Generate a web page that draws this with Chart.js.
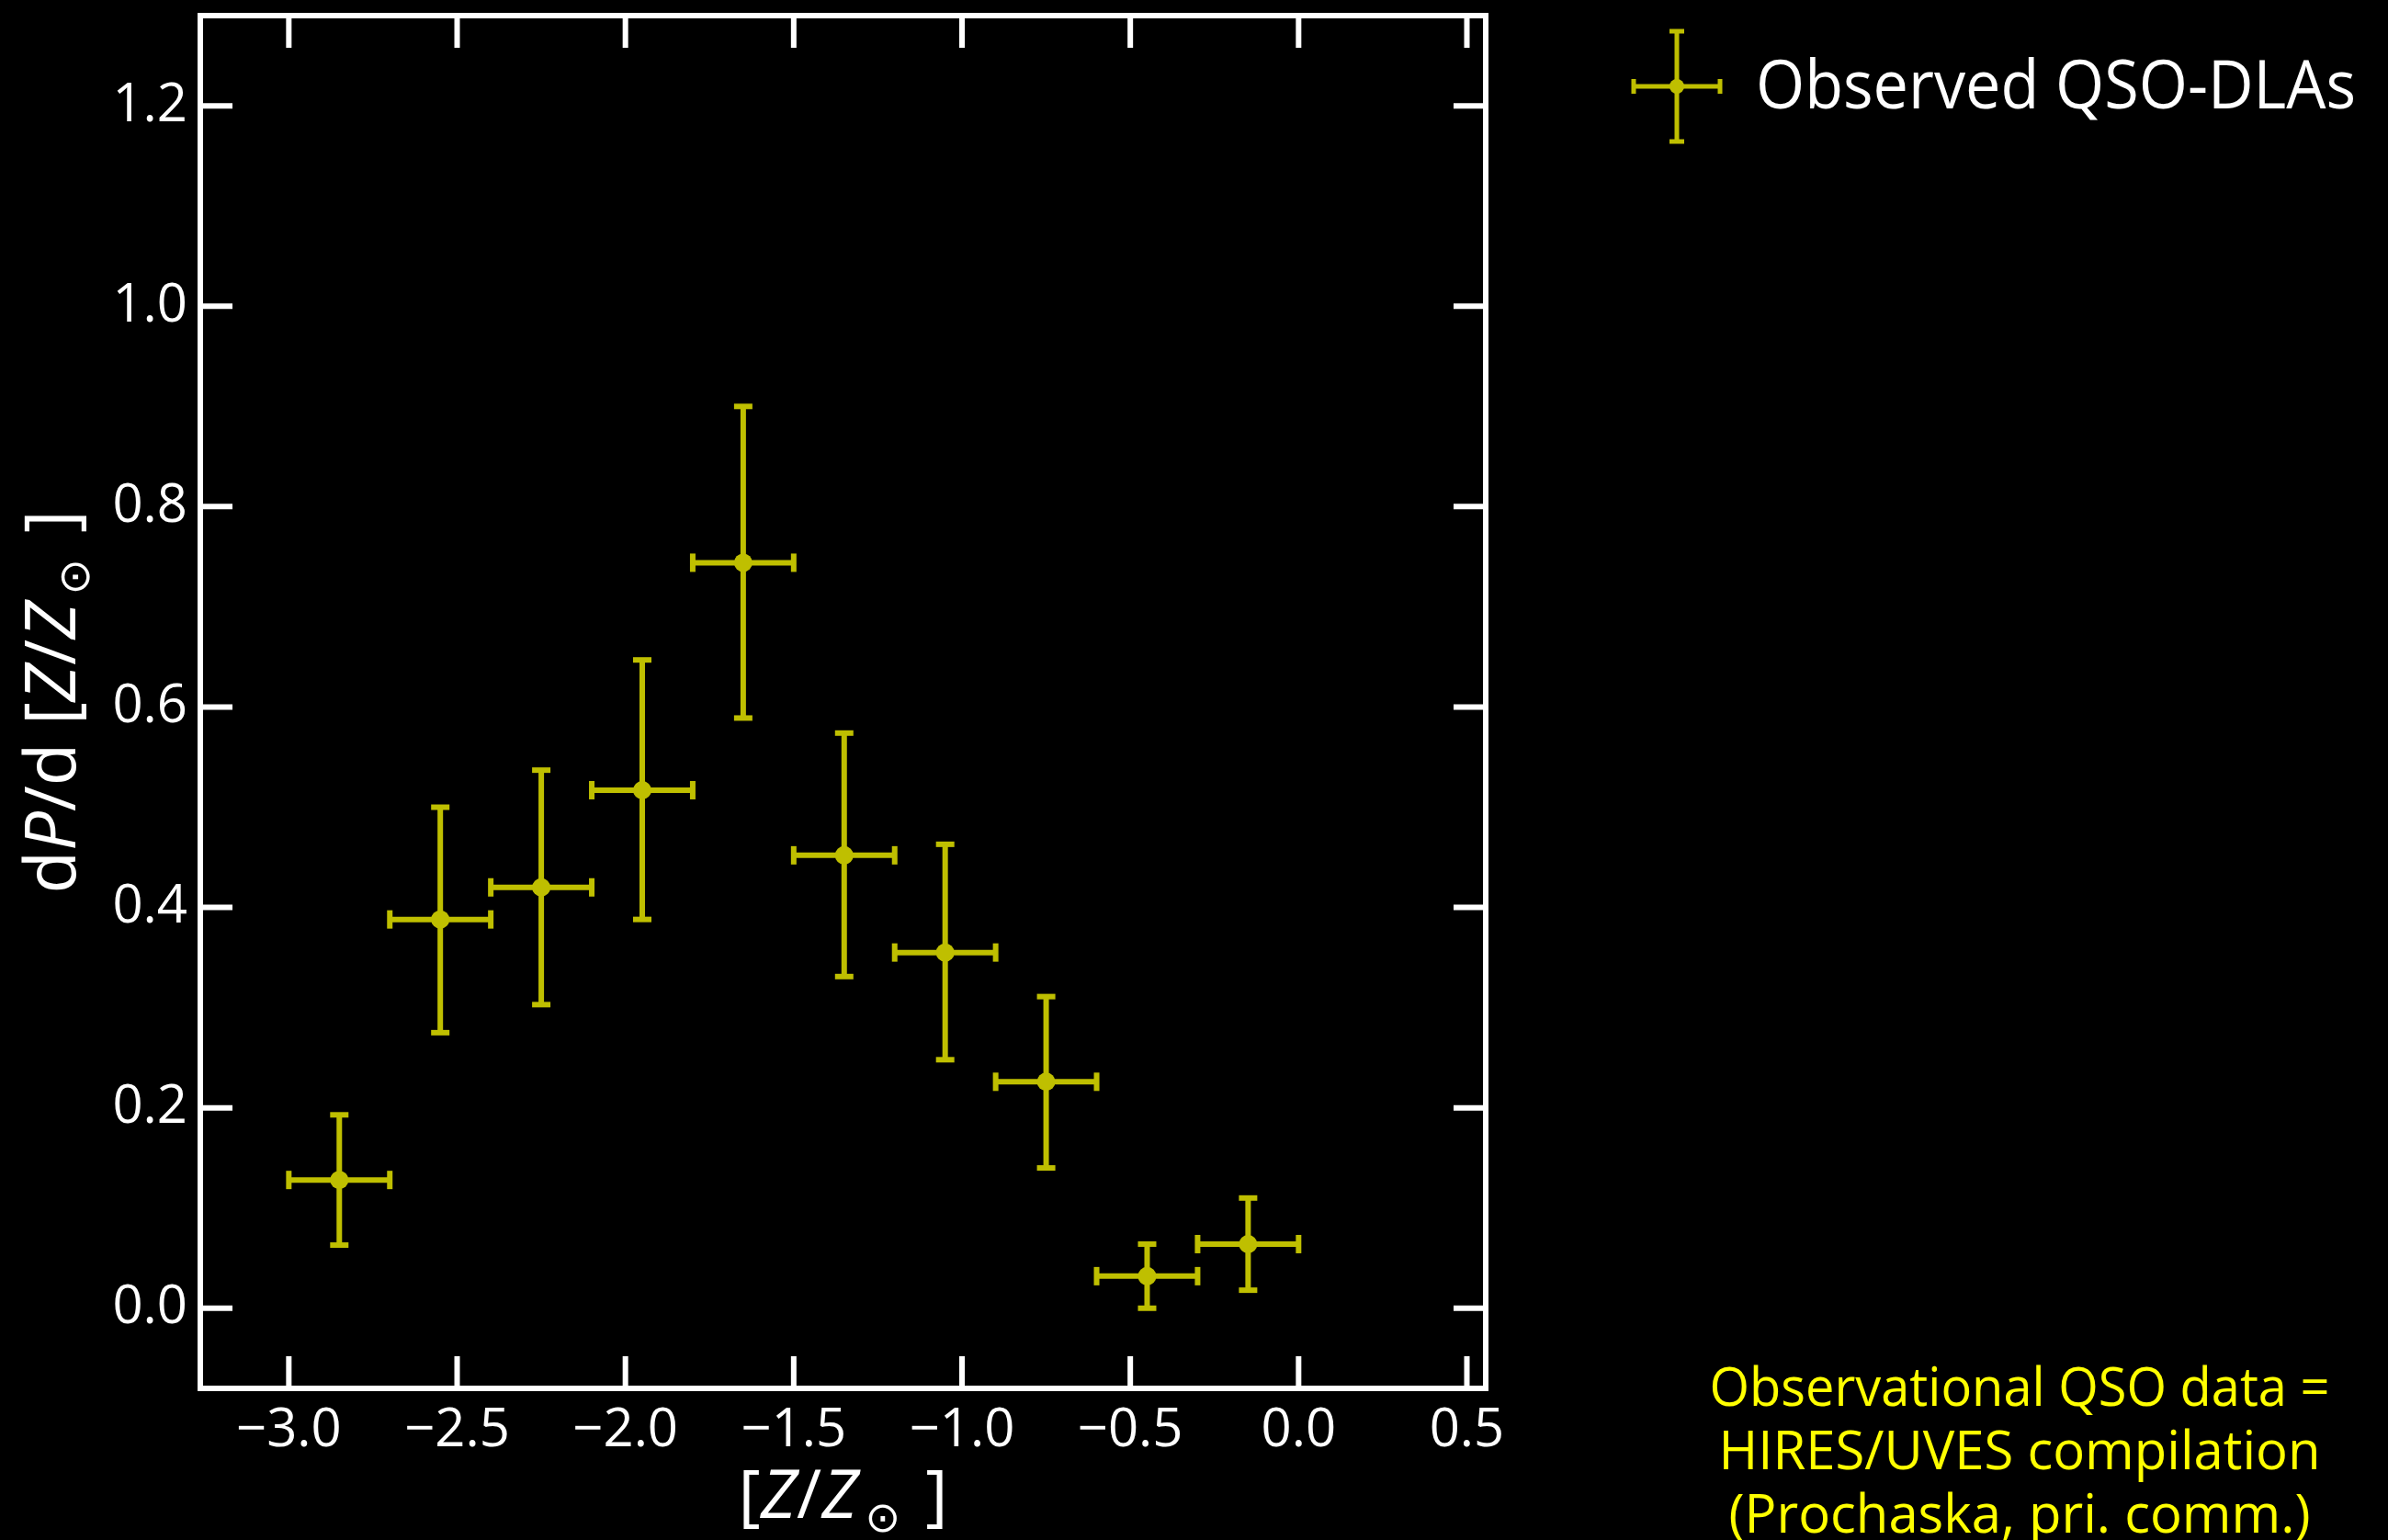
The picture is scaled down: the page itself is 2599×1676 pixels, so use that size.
<!DOCTYPE html>
<html lang="en">
  <head>
    <meta charset="UTF-8" />
    <title>DLA metallicity distribution</title>
    <script src="https://cdn.jsdelivr.net/npm/chart.js"></script>
    <style>
      html, body { margin: 0; padding: 0; background: #000; }
      canvas { display: block; }
    </style>
  </head>
  <body>
    <canvas id="dlaChart" width="2599" height="1676"></canvas>

    <script>
      // bin centres in [Z/Zsun] and the half width of each bin
      const metallicity = [-2.85, -2.55, -2.25, -1.95, -1.65, -1.35, -1.05, -0.75, -0.45, -0.15];
      const binHalfWidth = [0.15, 0.15, 0.15, 0.15, 0.15, 0.15, 0.15, 0.15, 0.15, 0.15];
      // measured dP/d[Z/Zsun] and the ends of its error bar
      const dPdZ = [0.128, 0.388, 0.42, 0.517, 0.744, 0.452, 0.355, 0.226, 0.032, 0.064];
      const yLower = [0.063, 0.275, 0.303, 0.388, 0.589, 0.331, 0.248, 0.14, 0.0, 0.018];
      const yUpper = [0.193, 0.5, 0.537, 0.647, 0.9, 0.574, 0.463, 0.311, 0.064, 0.11];

      const xTicks = [-3.0, -2.5, -2.0, -1.5, -1.0, -0.5, 0.0, 0.5];
      const yTicks = [0.0, 0.2, 0.4, 0.6, 0.8, 1.0, 1.2];

      const seriesLabel = "Observed QSO-DLAs";
      const noteLines = ["Observational QSO data =", "HIRES/UVES compilation", "(Prochaska, pri. comm.)"];

      const olive = "rgb(191, 191, 0)";
      const family = "'Open Sans', 'DejaVu Sans', sans-serif";

      // matplotlib style unicode minus
      const fmt = (v) => (v < 0 ? "\u2212" + Math.abs(v).toFixed(1) : v.toFixed(1));

      function line(ctx, x0, y0, x1, y1) {
        ctx.beginPath();
        ctx.moveTo(x0, y0);
        ctx.lineTo(x1, y1);
        ctx.stroke();
      }

      // one error-bar cross: horizontal + vertical bar with caps
      function errorCross(ctx, px, py, x0, x1, y0, y1, cap) {
        line(ctx, x0, py, x1, py);
        line(ctx, px, y0, px, y1);
        line(ctx, x0, py - cap, x0, py + cap);
        line(ctx, x1, py - cap, x1, py + cap);
        line(ctx, px - cap, y0, px + cap, y0);
        line(ctx, px - cap, y1, px + cap, y1);
      }

      // text made of runs (italic letters, subscript sun symbol), centred on 0,0
      function richText(ctx, runs, size) {
        const fontOf = (r) => (r.italic ? "italic " : "") + Math.round(size * (r.scale || 1)) + "px " + family;
        let w = 0;
        runs.forEach((r) => {
          ctx.font = fontOf(r);
          w += ctx.measureText(r.t).width + (r.gap || 0);
        });
        let x = -w / 2;
        runs.forEach((r) => {
          ctx.font = fontOf(r);
          ctx.fillText(r.t, x, r.drop ? size * r.drop : 0);
          x += ctx.measureText(r.t).width + (r.gap || 0);
        });
      }

      const sunRuns = [
        { t: "[" },
        { t: "Z", italic: true },
        { t: "/" },
        { t: "Z", italic: true, gap: 8 },
        { t: "\u2299", scale: 0.62, drop: 0.2, gap: 8 },
        { t: " ]" },
      ];
      const yTitleRuns = [{ t: "d" }, { t: "P", italic: true }, { t: "/d " }].concat(sunRuns);

      const framePlugin = {
        id: "frame",
        beforeDatasetsDraw(chart) {
          const { ctx, scales } = chart;
          const x = scales.x;
          const y = scales.y;
          ctx.save();
          ctx.strokeStyle = olive;
          ctx.lineWidth = 6;
          metallicity.forEach((m, i) => {
            errorCross(
              ctx,
              x.getPixelForValue(m),
              y.getPixelForValue(dPdZ[i]),
              x.getPixelForValue(m - binHalfWidth[i]),
              x.getPixelForValue(m + binHalfWidth[i]),
              y.getPixelForValue(yLower[i]),
              y.getPixelForValue(yUpper[i]),
              10
            );
          });
          ctx.restore();
        },
        afterDraw(chart) {
          const { ctx, chartArea: a, scales } = chart;
          ctx.save();

          // spines and inward ticks on all four sides
          ctx.strokeStyle = "#fff";
          ctx.lineWidth = 6;
          ctx.strokeRect(a.left, a.top, a.right - a.left, a.bottom - a.top);
          const tl = 35;
          scales.x.ticks.forEach((t) => {
            const px = scales.x.getPixelForValue(t.value);
            line(ctx, px, a.bottom, px, a.bottom - tl);
            line(ctx, px, a.top, px, a.top + tl);
          });
          scales.y.ticks.forEach((t) => {
            const py = scales.y.getPixelForValue(t.value);
            line(ctx, a.left, py, a.left + tl, py);
            line(ctx, a.right, py, a.right - tl, py);
          });

          // axis titles
          ctx.fillStyle = "#fff";
          ctx.textBaseline = "alphabetic";
          ctx.textAlign = "left";
          ctx.save();
          ctx.translate((a.left + a.right) / 2, 1652);
          richText(ctx, sunRuns, 74);
          ctx.restore();

          ctx.save();
          ctx.translate(82, (a.top + a.bottom) / 2);
          ctx.rotate(-Math.PI / 2);
          richText(ctx, yTitleRuns, 76);
          ctx.restore();

          // legend entry
          ctx.strokeStyle = olive;
          ctx.fillStyle = olive;
          ctx.lineWidth = 5;
          const lx = 1825;
          const ly = 94;
          errorCross(ctx, lx, ly, lx - 47, lx + 47, ly + 60, ly - 60, 8);
          ctx.beginPath();
          ctx.arc(lx, ly, 8, 0, Math.PI * 2);
          ctx.fill();
          ctx.fillStyle = "#fff";
          ctx.font = "74px " + family;
          ctx.textBaseline = "middle";
          ctx.fillText(seriesLabel, 1911, ly + 3, 653);

          // note in the lower right corner
          ctx.fillStyle = "#ffff00";
          ctx.font = "58px " + family;
          ctx.textAlign = "center";
          ctx.textBaseline = "alphabetic";
          noteLines.forEach((s, i) => ctx.fillText(s, 2198, 1530 + i * 69, 675));

          ctx.restore();
        },
      };

      const tickFont = { family: family, size: 58 };

      new Chart(document.getElementById("dlaChart"), {
        type: "scatter",
        data: {
          datasets: [
            {
              label: seriesLabel,
              data: metallicity.map((m, i) => ({ x: m, y: dPdZ[i] })),
              pointRadius: 10,
              pointHoverRadius: 10,
              backgroundColor: olive,
              borderColor: olive,
              borderWidth: 0,
            },
          ],
        },
        options: {
          responsive: false,
          animation: false,
          events: [],
          layout: { padding: { left: 0, top: 17, right: 982, bottom: 0 } },
          plugins: {
            legend: { display: false },
            tooltip: { enabled: false },
          },
          scales: {
            x: {
              type: "linear",
              min: -3.263,
              max: 0.556,
              afterBuildTicks: (s) => {
                s.ticks = xTicks.map((v) => ({ value: v }));
              },
              afterFit: (s) => {
                s.height = 165;
                s.paddingLeft = 0;
                s.paddingRight = 0;
              },
              grid: { display: false, drawTicks: false },
              border: { display: false },
              ticks: { color: "#fff", font: tickFont, padding: 12, maxRotation: 0, autoSkip: false, callback: fmt },
            },
            y: {
              type: "linear",
              min: -0.08,
              max: 1.29,
              afterBuildTicks: (s) => {
                s.ticks = yTicks.map((v) => ({ value: v }));
              },
              afterFit: (s) => {
                s.width = 218;
                s.paddingTop = 0;
                s.paddingBottom = 0;
              },
              grid: { display: false, drawTicks: false },
              border: { display: false },
              ticks: { color: "#fff", font: tickFont, padding: 14, autoSkip: false, callback: fmt },
            },
          },
        },
        plugins: [framePlugin],
      });
    </script>
  </body>
</html>
